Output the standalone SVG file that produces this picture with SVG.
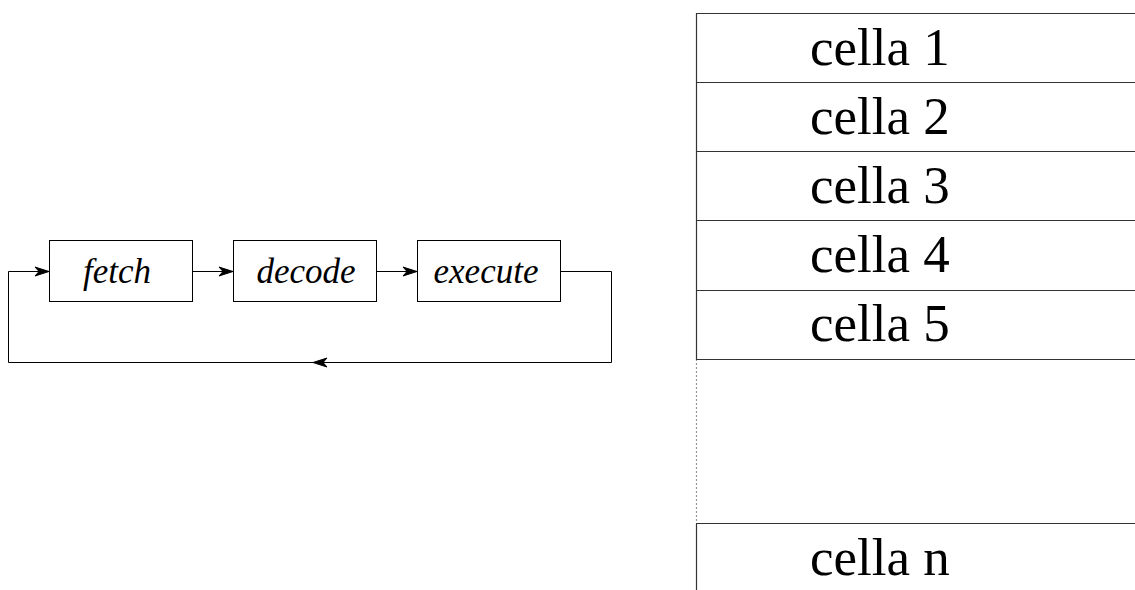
<svg xmlns="http://www.w3.org/2000/svg" width="1135" height="590" viewBox="0 0 1135 590">
<style>
.box{fill:#fff;stroke:#000;stroke-width:1}
.ln{fill:none;stroke:#000;stroke-width:1}
.cl{fill:none;stroke:#333;stroke-width:1.2}
.it{font-family:'Liberation Serif','Times New Roman',Times,serif;font-style:italic;font-size:35px;fill:#000;text-anchor:middle}
.cell{font-family:'Liberation Serif','Times New Roman',Times,serif;font-size:53px;fill:#000}
</style>
<defs>
<marker id="arr" markerUnits="userSpaceOnUse" viewBox="0 0 16 12" markerWidth="16" markerHeight="12" refX="15" refY="6" orient="auto">
<path d="M1,1.5 L15,6 L1,10.5 L5,6 z" fill="#000" stroke="#000" stroke-width="1" stroke-linejoin="miter"/>
</marker>
</defs>
<g id="connectors">
<line class="ln" x1="192" y1="271.5" x2="233" y2="271.5" marker-end="url(#arr)"/>
<line class="ln" x1="376" y1="271.5" x2="417" y2="271.5" marker-end="url(#arr)"/>
<path class="ln" d="M560,271.5 H611.5 V362.5 H313" marker-end="url(#arr)"/>
<path class="ln" d="M313,362.5 H8.5 V271.5 H49" marker-end="url(#arr)"/>
</g>
<g id="fetch">
<rect class="box" x="49.5" y="240.5" width="143" height="61"/>
<text class="it" x="117" y="283">fetch</text>
</g>
<g id="decode">
<rect class="box" x="233.5" y="240.5" width="143" height="61"/>
<text class="it" x="306" y="283">decode</text>
</g>
<g id="execute">
<rect class="box" x="417.5" y="240.5" width="143" height="61"/>
<text class="it" x="486" y="283">execute</text>
</g>
<g id="memory">
<line class="cl" x1="696.5" y1="13" x2="696.5" y2="359.5"/>
<line class="cl" x1="696.5" y1="359.5" x2="696.5" y2="523.5" stroke-dasharray="1 3"/>
<line class="cl" x1="696.5" y1="523.5" x2="696.5" y2="590"/>
<line class="cl" x1="696" y1="13.5" x2="1135" y2="13.5"/>
<line class="cl" x1="696" y1="82.5" x2="1135" y2="82.5"/>
<line class="cl" x1="696" y1="151.5" x2="1135" y2="151.5"/>
<line class="cl" x1="696" y1="220.5" x2="1135" y2="220.5"/>
<line class="cl" x1="696" y1="290.5" x2="1135" y2="290.5"/>
<line class="cl" x1="696" y1="359.5" x2="1135" y2="359.5"/>
<line class="cl" x1="696" y1="523.5" x2="1135" y2="523.5"/>
<text class="cell" x="810" y="65">cella 1</text>
<text class="cell" x="810" y="134">cella 2</text>
<text class="cell" x="810" y="203">cella 3</text>
<text class="cell" x="810" y="272">cella 4</text>
<text class="cell" x="810" y="341">cella 5</text>
<text class="cell" x="810" y="575">cella n</text>
</g>
</svg>
